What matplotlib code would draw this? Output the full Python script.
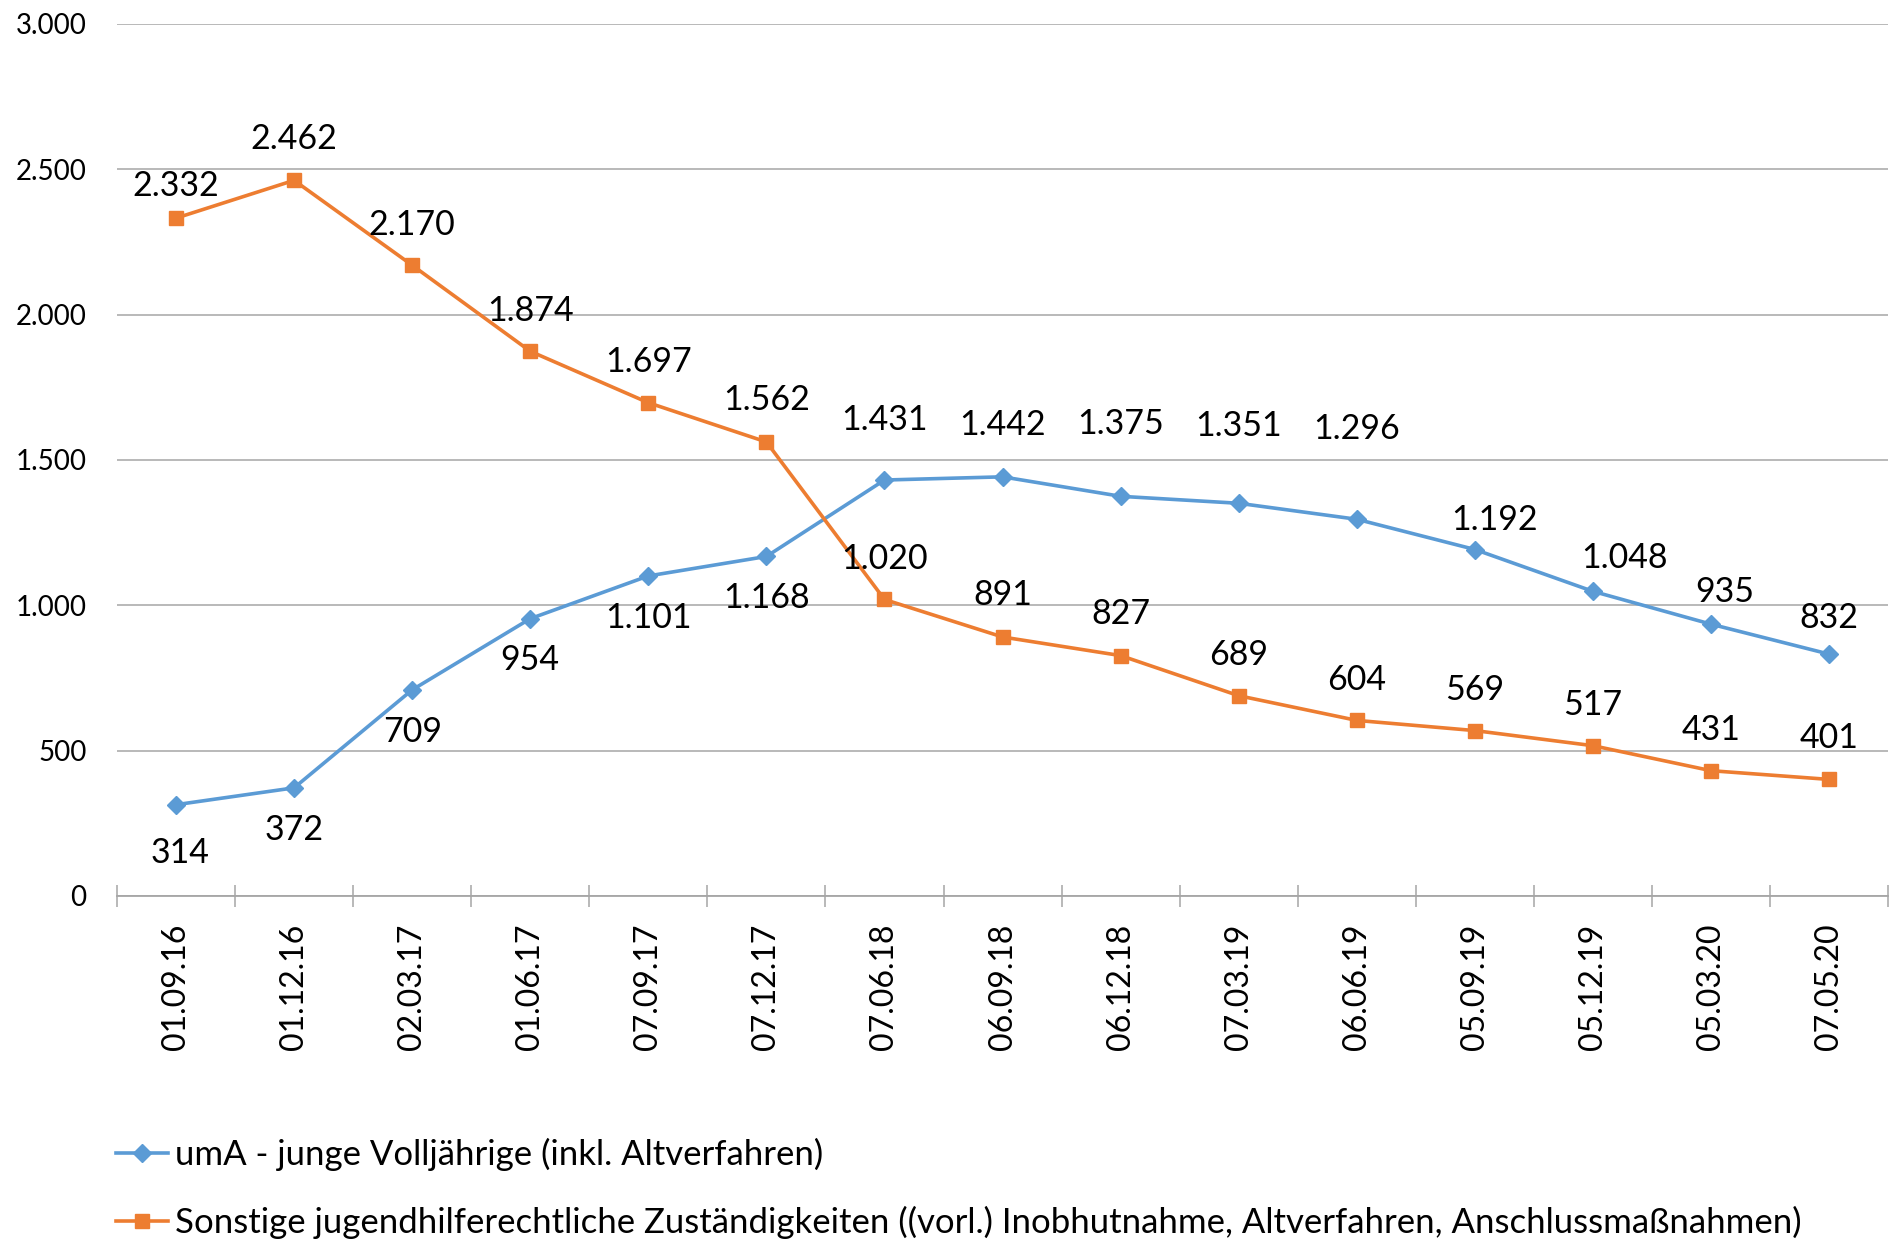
import numpy as np
import matplotlib
matplotlib.use('Agg')
import matplotlib.pyplot as plt
from matplotlib.ticker import FuncFormatter

# data
dates = ['01.09.16', '01.12.16', '02.03.17', '01.06.17', '07.09.17', '07.12.17',
         '07.06.18', '06.09.18', '06.12.18', '07.03.19', '06.06.19', '05.09.19',
         '05.12.19', '05.03.20', '07.05.20']
uma = [314, 372, 709, 954, 1101, 1168, 1431, 1442, 1375, 1351, 1296, 1192, 1048, 935, 832]
sonstige = [2332, 2462, 2170, 1874, 1697, 1562, 1020, 891, 827, 689, 604, 569, 517, 431, 401]
label_uma = 'umA - junge Volljährige (inkl. Altverfahren)'
label_sonst = ('Sonstige jugendhilferechtliche Zuständigkeiten ((vorl.) Inobhutnahme, '
               'Altverfahren, Anschlussmaßnahmen)')

# label offsets (points), mimicking excel placement
uma_dy = [-35, -30, -30, -30, -30, -30, 43, 37, 52, 56, 65, 21, 24, 23, 26]
uma_dx = [3, 0, 0, 0, 0, 0, 0, 0, 0, 0, 0, 14, 23, 10, 0]
sonst_dy = [23, 30, 29, 29, 29, 30, 29, 30, 30, 29, 29, 29, 29, 29, 30]

BLUE = '#5B9BD5'
ORANGE = '#ED7D31'
GRID = '#A6A6A6'

plt.rcParams['font.family'] = ['Lato', 'DejaVu Sans']

fig = plt.figure(figsize=(18.92, 12.42), dpi=100)
ax = fig.add_axes([0.0618, 0.2786, 0.9362, 0.7021])

x = np.arange(len(dates))

l1, = ax.plot(x, uma, color=BLUE, lw=2.6, marker='D', ms=9, zorder=3)
l2, = ax.plot(x, sonstige, color=ORANGE, lw=2.6, marker='s', ms=10, zorder=3)

fmt = lambda v: f'{v:,}'.replace(',', '.')
for i, v in enumerate(uma):
    ax.annotate(fmt(v), (x[i], v), xytext=(uma_dx[i], uma_dy[i]), textcoords='offset points',
                ha='center', va='center', fontsize=24.5, color='black')
for i, v in enumerate(sonstige):
    ax.annotate(fmt(v), (x[i], v), xytext=(0, sonst_dy[i]), textcoords='offset points',
                ha='center', va='center', fontsize=24.5, color='black')

ax.set_xlim(-0.5, len(dates) - 0.5)
ax.set_ylim(0, 3000)
ax.set_yticks(np.arange(0, 3001, 500))
ax.yaxis.set_major_formatter(FuncFormatter(lambda v, p: fmt(int(v))))
ax.grid(axis='y', color=GRID, lw=1.1)
ax.set_axisbelow(True)

ax.set_xticks(np.arange(-0.5, len(dates), 1))
ax.set_xticklabels([])
ax.set_xticks(x, minor=True)
ax.set_xticklabels(dates, minor=True, rotation=90, fontsize=23)
ax.tick_params(axis='x', which='major', direction='inout', length=16, color=GRID, width=1.1)
ax.tick_params(axis='x', which='minor', length=0, pad=20)
ax.tick_params(axis='y', length=0, pad=22, labelsize=20)

for s in ['top', 'right', 'left']:
    ax.spines[s].set_visible(False)
ax.spines['bottom'].set_color(GRID)
ax.spines['bottom'].set_linewidth(1.3)

fig.legend([l1, l2], [label_uma, label_sonst], loc='upper left',
           bbox_to_anchor=(0.054, 0.095), frameon=False, fontsize=25,
           handlelength=1.5, handletextpad=0.2, labelspacing=1.0, borderaxespad=0)

fig.savefig('out.png', dpi=100)
